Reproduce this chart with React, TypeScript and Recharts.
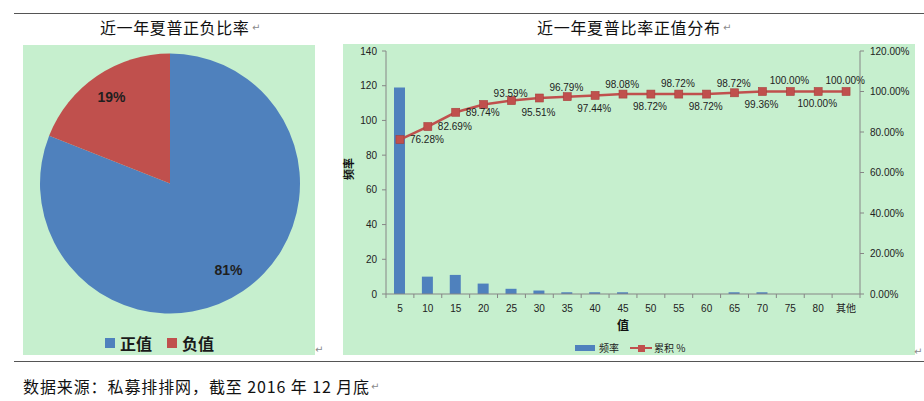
import React from 'react';
import { PieChart, Pie, Cell, ComposedChart, Bar, Line, XAxis, YAxis, LabelList } from 'recharts';

const pieNames = ['正值', '负值'];
const pieValues = [81, 19];
const pieColors = ['#4F81BD', '#C0504D'];

const categories = ['5', '10', '15', '20', '25', '30', '35', '40', '45', '50', '55', '60', '65', '70', '75', '80', '其他'];
const frequency = [119, 10, 11, 6, 3, 2, 1, 1, 1, 0, 0, 0, 1, 1, 0, 0, 0];
const cumulative = [76.28, 82.69, 89.74, 93.59, 95.51, 96.79, 97.44, 98.08, 98.72, 98.72, 98.72, 98.72, 99.36, 100, 100, 100, 100];
const leftTicks = [0, 20, 40, 60, 80, 100, 120, 140];
const rightTicks = [0, 20, 40, 60, 80, 100, 120];

const pieData = pieNames.map((name, i) => ({ name, value: pieValues[i] }));
const barData = categories.map((c, i) => ({ cat: c, freq: frequency[i], cum: cumulative[i] }));

const FONT = "'Liberation Sans', 'Noto Sans CJK SC', sans-serif";
const CJK = "'Noto Sans CJK SC', 'Liberation Sans', sans-serif";
const GREEN = '#C6EFCE';
const AXIS = '#868686';

const CH_W = 572;
const CH_H = 311;
const LEFT_W = 43;
const RIGHT_W = 55;
const PLOT_W = CH_W - LEFT_W - RIGHT_W;
const BAND = PLOT_W / categories.length;

const RAD = Math.PI / 180;

const renderPieLabel = (props: any) => {
  const { cx, cy, midAngle, outerRadius, percent } = props;
  const r = outerRadius * 0.8;
  const x = cx + r * Math.cos(-midAngle * RAD);
  const y = cy + r * Math.sin(-midAngle * RAD);
  return (
    <text x={x} y={y} textAnchor="middle" dominantBaseline="central" fontSize={14} fontWeight="bold" fill="#1f1f1f" fontFamily={FONT}>
      {Math.round(percent * 100)}%
    </text>
  );
};

const renderCumLabel = (props: any) => {
  const { index, value } = props;
  if (index == null || index >= cumulative.length - 1) return null;
  const x = props.x ?? props.viewBox?.x;
  const y = props.y ?? props.viewBox?.y;
  if (x == null || y == null) return null;
  let dy = 0;
  if (index >= 3) dy = index % 2 === 1 ? -11 : 12;
  return (
    <text x={x + 27} y={y + dy} textAnchor="middle" dominantBaseline="central" fontSize={10} fill="#222" fontFamily={FONT}>
      {Number(value).toFixed(2)}%
    </text>
  );
};

const XTick = (props: any) => {
  const { x, y, payload, index } = props;
  const half = BAND / 2;
  return (
    <g>
      <line x1={x - half} y1={y} x2={x - half} y2={y + 4} stroke={AXIS} />
      {index === categories.length - 1 ? <line x1={x + half} y1={y} x2={x + half} y2={y + 4} stroke={AXIS} /> : null}
      <text x={x} y={y + 18} textAnchor="middle" fontSize={10} fill="#222" fontFamily={FONT}>{payload.value}</text>
    </g>
  );
};

const Square = (props: any) => {
  const { cx, cy, index } = props;
  if (cx == null || cy == null) return <g key={index} />;
  return <rect key={index} x={cx - 4} y={cy - 4} width={8} height={8} fill="#C0504D" stroke="#A8403D" strokeWidth={0.6} />;
};

const mark = (left: number, top: number) => (
  <span style={{ position: 'absolute', left, top, fontSize: 10, color: '#8a8a8a', fontFamily: "'DejaVu Sans', sans-serif", lineHeight: '12px' }}>↵</span>
);

export default function App() {
  return (
    <div style={{ position: 'absolute', left: 0, top: 0, width: 924, height: 401, background: '#fff', overflow: 'hidden', fontFamily: CJK }}>
      <div style={{ position: 'absolute', left: 14, top: 13, width: 910, height: 1, background: '#555' }} />
      <div style={{ position: 'absolute', left: 14, top: 361, width: 910, height: 1, background: '#555' }} />

      <div style={{ position: 'absolute', left: 100, top: 17, fontSize: 16, lineHeight: '20px', letterSpacing: '0.6px', whiteSpace: 'nowrap', color: '#111' }}>近一年夏普正负比率</div>
      {mark(252, 22)}
      <div style={{ position: 'absolute', left: 537, top: 17, fontSize: 16, lineHeight: '20px', letterSpacing: '0.7px', whiteSpace: 'nowrap', color: '#111' }}>近一年夏普比率正值分布</div>
      {mark(723, 22)}

      <div style={{ position: 'absolute', left: 23, top: 45, width: 292, height: 310, background: GREEN }}>
        <PieChart width={292} height={310} margin={{ top: 0, right: 0, bottom: 0, left: 0 }}>
          <Pie
            data={pieData}
            dataKey="value"
            nameKey="name"
            cx={147}
            cy={138.5}
            outerRadius={130}
            startAngle={90}
            endAngle={-270}
            stroke="none"
            label={renderPieLabel}
            labelLine={false}
            isAnimationActive={false}
          >
            {pieData.map((d, i) => (
              <Cell key={d.name} fill={pieColors[i]} />
            ))}
          </Pie>
        </PieChart>
        {pieNames.map((n, i) => (
          <React.Fragment key={n}>
            <div style={{ position: 'absolute', left: 82 + i * 62, top: 293, width: 10, height: 10, background: pieColors[i] }} />
            <div style={{ position: 'absolute', left: 97 + i * 62, top: 288, fontSize: 16, lineHeight: '20px', fontWeight: 'bold', color: '#1a1a1a', whiteSpace: 'nowrap' }}>{n}</div>
          </React.Fragment>
        ))}
      </div>
      {mark(315, 344)}

      <div style={{ position: 'absolute', left: 343, top: 44, width: CH_W, height: CH_H, background: GREEN }}>
        <ComposedChart width={CH_W} height={CH_H} data={barData} margin={{ top: 7, right: 0, bottom: 0, left: 0 }}>
          <XAxis
            dataKey="cat"
            height={61}
            axisLine={{ stroke: AXIS }}
            tickLine={false}
            tickSize={0}
            tickMargin={0}
            interval={0}
            tick={<XTick />}
          />
          <YAxis
            yAxisId="left"
            orientation="left"
            width={LEFT_W}
            domain={[0, 140]}
            ticks={leftTicks}
            interval={0}
            axisLine={{ stroke: AXIS }}
            tickLine={{ stroke: AXIS }}
            tickSize={4}
            tickMargin={5}
            tick={{ fontSize: 10, fill: '#222', fontFamily: FONT }}
          />
          <YAxis
            yAxisId="right"
            orientation="right"
            width={RIGHT_W}
            domain={[0, 120]}
            ticks={rightTicks}
            interval={0}
            axisLine={{ stroke: AXIS }}
            tickLine={{ stroke: AXIS }}
            tickSize={4}
            tickMargin={6}
            tickFormatter={(v: number) => v.toFixed(2) + '%'}
            tick={{ fontSize: 10, fill: '#222', fontFamily: FONT, textAnchor: 'start' }}
          />
          <Bar yAxisId="left" dataKey="freq" fill="#4F81BD" barSize={11} isAnimationActive={false} />
          <Line
            yAxisId="right"
            dataKey="cum"
            type="linear"
            stroke="#C0504D"
            strokeWidth={2.5}
            dot={<Square />}
            activeDot={false}
            isAnimationActive={false}
          >
            <LabelList dataKey="cum" content={renderCumLabel} />
          </Line>
        </ComposedChart>
        <div style={{ position: 'absolute', left: -6, top: 118, width: 22, textAlign: 'center', fontSize: 11, fontWeight: 'bold', lineHeight: '14px', color: '#111', transform: 'rotate(-90deg)', whiteSpace: 'nowrap' }}>频率</div>
        <div style={{ position: 'absolute', left: 274, top: 273, fontSize: 12, fontWeight: 'bold', lineHeight: '16px', color: '#111' }}>值</div>

        <div style={{ position: 'absolute', left: 232, top: 301, width: 20, height: 6, background: '#4F81BD' }} />
        <div style={{ position: 'absolute', left: 256, top: 298, fontSize: 10, lineHeight: '12px', color: '#222', whiteSpace: 'nowrap' }}>频率</div>
        <div style={{ position: 'absolute', left: 287, top: 302.75, width: 22, height: 2.5, background: '#C0504D' }} />
        <div style={{ position: 'absolute', left: 294.5, top: 300.5, width: 7, height: 7, background: '#C0504D' }} />
        <div style={{ position: 'absolute', left: 311, top: 298, fontSize: 10, lineHeight: '12px', color: '#222', whiteSpace: 'nowrap' }}>累积 %</div>
      </div>
      {mark(914, 346)}

      <div style={{ position: 'absolute', left: 23, top: 376, fontSize: 16, lineHeight: '20px', letterSpacing: '0.9px', whiteSpace: 'nowrap', color: '#111' }}>数据来源：私募排排网，截至 2016 年 12 月底</div>
      {mark(371, 381)}
    </div>
  );
}
